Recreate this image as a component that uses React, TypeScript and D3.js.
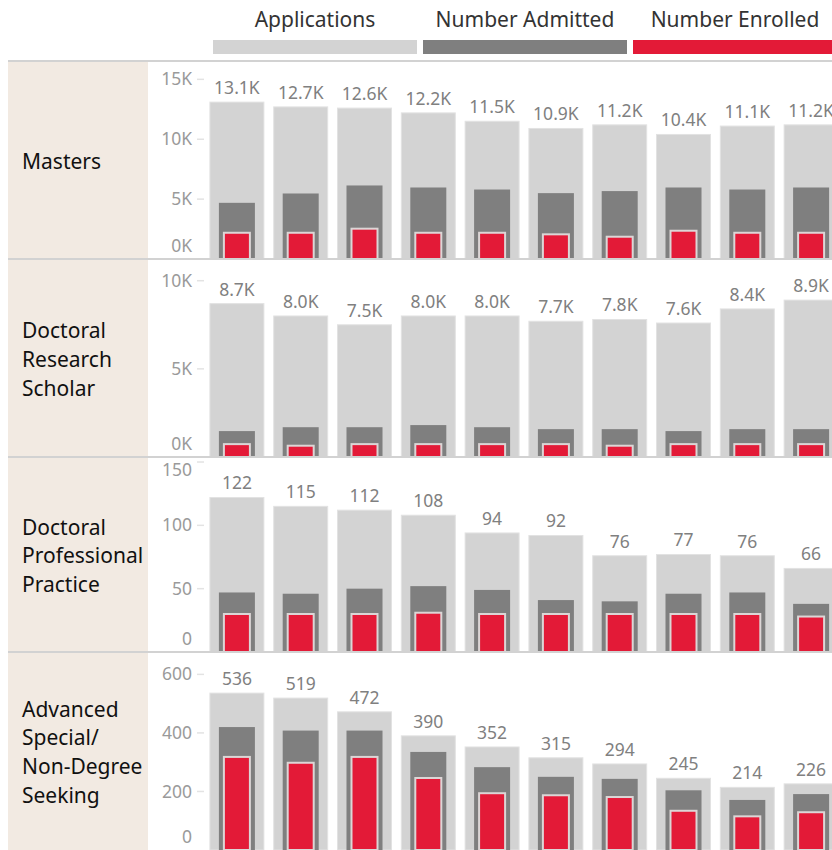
import React from "react";
import * as d3 from "d3";

// columns carry no header in the chart, so they are just numbered slots
const columns = ["C1", "C2", "C3", "C4", "C5", "C6", "C7", "C8", "C9", "C10"];
const seriesNames = ["Applications", "Number Admitted", "Number Enrolled"];
const seriesColors = ["#d3d3d3", "#7f7f7f", "#e31a37"];

const programLines = [
  ["Masters"],
  ["Doctoral", "Research", "Scholar"],
  ["Doctoral", "Professional", "Practice"],
  ["Advanced", "Special/", "Non-Degree", "Seeking"],
];

const mastersApplications = [13100, 12700, 12600, 12200, 11500, 10900, 11200, 10400, 11100, 11200];
const mastersAdmitted = [4690, 5470, 6140, 5970, 5800, 5500, 5670, 5970, 5800, 5970];
const mastersEnrolled = [2190, 2190, 2530, 2190, 2190, 2060, 1860, 2360, 2190, 2190];

const researchApplications = [8700, 8000, 7500, 8000, 8000, 7700, 7800, 7600, 8400, 8900];
const researchAdmitted = [1470, 1690, 1690, 1810, 1690, 1580, 1580, 1470, 1580, 1580];
const researchEnrolled = [730, 640, 730, 730, 730, 730, 640, 730, 730, 730];

const practiceApplications = [122, 115, 112, 108, 94, 92, 76, 77, 76, 66];
const practiceAdmitted = [47, 46, 50, 52, 49, 41, 40, 46, 47, 38];
const practiceEnrolled = [30, 30, 30, 31, 30, 30, 30, 30, 30, 28];

const advancedApplications = [536, 519, 472, 390, 352, 315, 294, 245, 214, 226];
const advancedAdmitted = [420, 408, 408, 335, 283, 250, 243, 204, 171, 191];
const advancedEnrolled = [318, 298, 318, 246, 194, 187, 181, 134, 115, 129];

const mastersTicks = [0, 5000, 10000, 15000];
const researchTicks = [0, 5000, 10000];
const practiceTicks = [0, 50, 100, 150];
const advancedTicks = [0, 200, 400, 600];

const rows = [
  { lines: programLines[0], apps: mastersApplications, adm: mastersAdmitted, enr: mastersEnrolled, ticks: mastersTicks, k: true },
  { lines: programLines[1], apps: researchApplications, adm: researchAdmitted, enr: researchEnrolled, ticks: researchTicks, k: true },
  { lines: programLines[2], apps: practiceApplications, adm: practiceAdmitted, enr: practiceEnrolled, ticks: practiceTicks, k: false },
  { lines: programLines[3], apps: advancedApplications, adm: advancedAdmitted, enr: advancedEnrolled, ticks: advancedTicks, k: false },
];

const W = 832;
const H = 850;
const rowEdges = [61, 259, 457, 652, 850];
const font = "'Noto Sans', sans-serif";

export default function App() {
  const x = d3.scaleBand<string>().domain(columns).range([205, 843]).paddingInner(0.154).paddingOuter(0.077);
  const legendX = d3.scaleBand<string>().domain(seriesNames).range([213, 837]).paddingInner(0.0286);

  const fmtLabel = (v: number, k: boolean) => (k ? `${(v / 1000).toFixed(1)}K` : `${v}`);
  const fmtTick = (v: number, k: boolean) => (k ? `${v / 1000}K` : `${v}`);

  return (
    <svg width={W} height={H} style={{ position: "absolute", left: 0, top: 0 }} fontFamily={font}>
      {/* legend */}
      {seriesNames.map((s, i) => (
        <g key={s}>
          <text x={legendX(s)! + legendX.bandwidth() / 2} y={27} textAnchor="middle" fontSize={21} fill="#333">
            {s}
          </text>
          <rect x={legendX(s)} y={40} width={legendX.bandwidth()} height={14} fill={seriesColors[i]} />
        </g>
      ))}

      <rect x={8} y={rowEdges[0]} width={140} height={H - rowEdges[0]} fill="#f2eae2" />

      {rows.map((r, ri) => {
        const top = rowEdges[ri];
        const bottom = rowEdges[ri + 1];
        const y = d3.scaleLinear().domain([0, d3.max(r.apps)! * 1.262]).range([bottom, top]);
        const mid = (top + bottom) / 2 + 1.5;
        const lh = 28.8;
        const bw = x.bandwidth();
        return (
          <g key={ri}>
            {r.lines.map((t, li) => (
              <text key={li} x={22} y={mid + (li - (r.lines.length - 1) / 2) * lh} dy="0.35em" fontSize={21} fill="#111">
                {t}
              </text>
            ))}
            {r.ticks.map((t) => (
              <g key={t}>
                <text
                  x={192}
                  y={Math.min(bottom - 13, Math.max(top + 13, y(t)))}
                  dy="0.35em"
                  textAnchor="end"
                  fontSize={17.5}
                  fill="#9a9a9a"
                >
                  {fmtTick(t, r.k)}
                </text>
                {t > 0 && <line x1={197} x2={204} y1={y(t)} y2={y(t)} stroke="#e3e3e3" strokeWidth={1.5} />}
              </g>
            ))}
            {columns.map((c, i) => {
              const cx = x(c)! + bw / 2;
              return (
                <g key={c}>
                  <rect x={x(c)} y={y(r.apps[i])} width={bw} height={bottom - y(r.apps[i])} fill={seriesColors[0]} stroke="#e2e2e2" strokeWidth={1} />
                  <rect x={cx - 18} y={y(r.adm[i])} width={36} height={bottom - y(r.adm[i])} fill={seriesColors[1]} />
                  <rect x={cx - 13} y={y(r.enr[i])} width={26} height={bottom - y(r.enr[i])} fill={seriesColors[2]} stroke="#dcd6d6" strokeWidth={2} />
                  <text x={cx} y={y(r.apps[i]) - 8} textAnchor="middle" fontSize={17.5} fill="#808080">
                    {fmtLabel(r.apps[i], r.k)}
                  </text>
                </g>
              );
            })}
          </g>
        );
      })}

      {rowEdges.slice(0, 4).map((e) => (
        <line key={e} x1={8} x2={W} y1={e} y2={e} stroke="#d2d2d2" strokeWidth={2} />
      ))}
    </svg>
  );
}
